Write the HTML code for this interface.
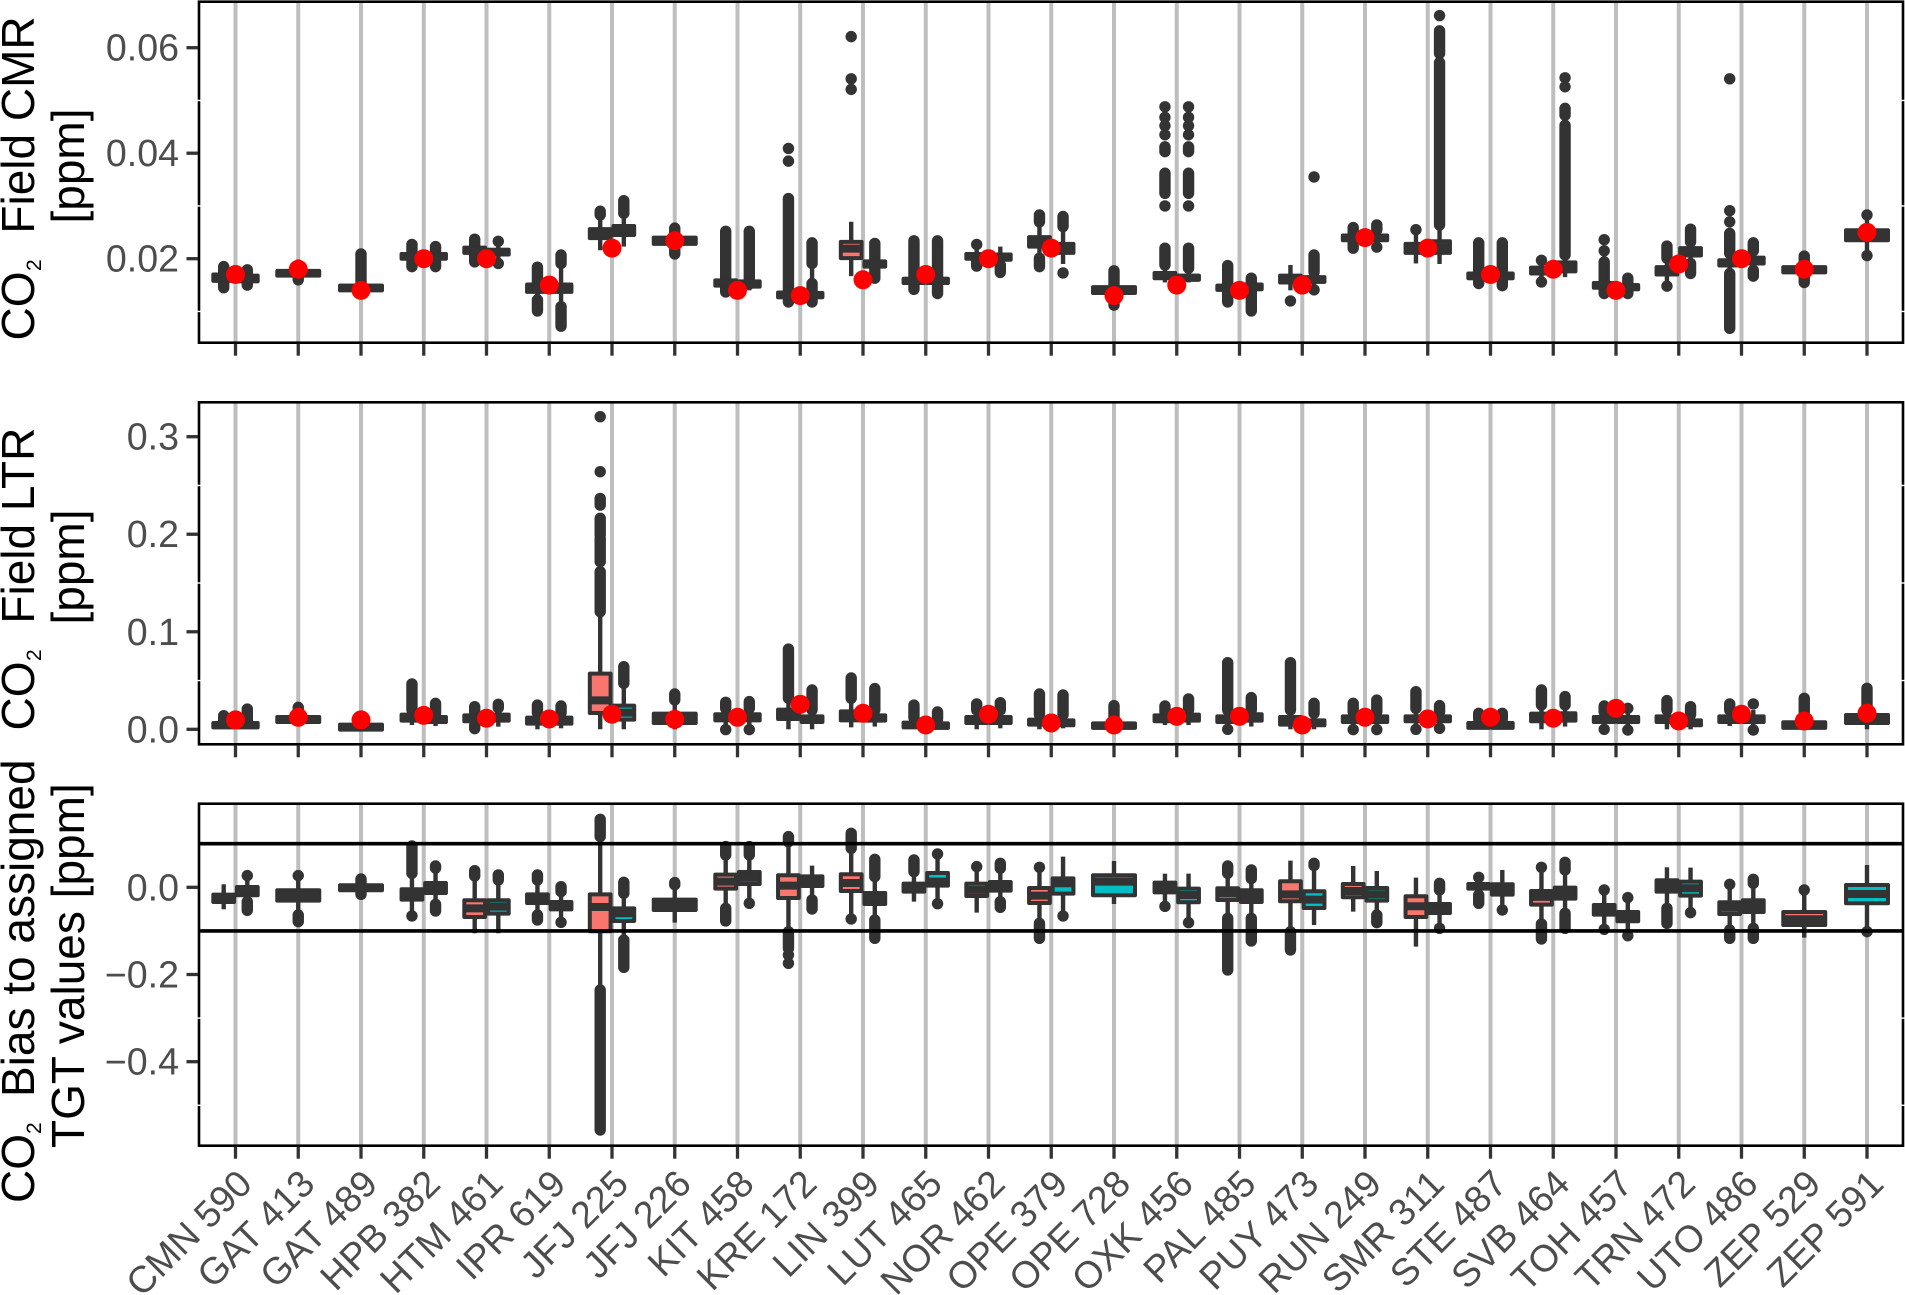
<!DOCTYPE html>
<html lang="en">
<head>
<meta charset="utf-8">
<title>CO2 field CMR, LTR and bias to assigned TGT values by station</title>
<style>
html,body{margin:0;padding:0;background:#fff;}
svg{display:block;font-family:"Liberation Sans",Arial,sans-serif;}
</style>
</head>
<body>
<svg id="chart" xmlns="http://www.w3.org/2000/svg" width="1905" height="1295" viewBox="0 0 1905 1295">
<rect x="0" y="0" width="1905" height="1295" fill="#fff"/>
<g id="plot"></g>
<text transform="rotate(-90)" font-size="46" fill="#000"><tspan x="-340.5" y="34">CO</tspan><tspan x="-271" y="41" font-size="21">2</tspan><tspan x="-233.6" y="34">Field CMR</tspan></text>
<text transform="rotate(-90)" font-size="46" fill="#000" text-anchor="middle" x="-166" y="84">[ppm]</text>
<text transform="rotate(-90)" font-size="46" fill="#000"><tspan x="-730.5" y="34">CO</tspan><tspan x="-661" y="41" font-size="21">2</tspan><tspan x="-623.6" y="34">Field LTR</tspan></text>
<text transform="rotate(-90)" font-size="46" fill="#000" text-anchor="middle" x="-567" y="84">[ppm]</text>
<text transform="rotate(-90)" font-size="46" fill="#000"><tspan x="-1203" y="34">CO</tspan><tspan x="-1134" y="41" font-size="21">2</tspan><tspan x="-1097" y="34">Bias to assigned</tspan></text>
<text transform="rotate(-90)" font-size="46" fill="#000" x="-1148" y="84">TGT values [ppm]</text>
</svg>
<script>
const categories = ["CMN 590","GAT 413","GAT 489","HPB 382","HTM 461","IPR 619","JFJ 225","JFJ 226","KIT 458","KRE 172","LIN 399","LUT 465","NOR 462","OPE 379","OPE 728","OXK 456","PAL 485","PUY 473","RUN 249","SMR 311","STE 487","SVB 464","TOH 457","TRN 472","UTO 486","ZEP 529","ZEP 591"];

const cmrTicks = [0.02, 0.04, 0.06];
const cmrTickLabels = ["0.02", "0.04", "0.06"];
const cmrMinorTicks = [0.01, 0.03, 0.05];
const ltrTicks = [0, 0.1, 0.2, 0.3];
const ltrTickLabels = ["0.0", "0.1", "0.2", "0.3"];
const ltrMinorTicks = [0.05, 0.15, 0.25];
const biasTicks = [0, -0.2, -0.4];
const biasTickLabels = ["0.0", "\u22120.2", "\u22120.4"];
const biasMinorTicks = [-0.3, -0.5];
const biasLimits = [0.1, -0.1];

/* assigned values (red points), one per category */
const cmrAssigned = [.017,.018,.014,.020,.020,.015,.022,.0234,.014,.013,.016,.017,.020,.022,.013,.015,.014,.015,.024,.022,.017,.018,.014,.019,.020,.018,.025];
const ltrAssigned = [.0096,.0123,.0096,.0143,.0113,.0106,.0154,.0102,.0123,.0256,.0164,.0044,.0154,.0065,.0044,.0133,.0133,.0044,.0123,.0106,.0123,.0113,.0215,.0085,.0154,.0085,.0164];

/* each box: [group, q1, median, q3, whiskerLow, whiskerHigh, outliers]; group 0 = first level, 1 = second level; an outlier is a value or a [low, high] run of overlapping points */
const cmrBoxes = [
[[0,.0158,.0164,.0170,.0150,.0178,[[.0145,.0185]]],[1,.0157,.0163,.0168,.0150,.0175,[[.0150,.0179]]]],
[[0,.0168,.0173,.0177,.0162,.0183,[[.0160,.0188]]]],
[[0,.0140,.0145,.0149,.0135,.0155,[[.0155,.0209]]]],
[[0,.0200,.0205,.0209,.0190,.0220,[[.0185,.0227]]],[1,.0200,.0205,.0209,.0190,.0220,[[.0185,.0223]]]],
[[0,.0211,.0216,.0221,.0200,.0230,[[.0194,.0237]]],[1,.0208,.0213,.0217,.0198,.0228,[.0233,.0191]]],
[[0,.0137,.0144,.0151,.0125,.0155,[[.0156,.0184],[.0101,.0122]]],[1,.0137,.0144,.0151,.0112,.0190,[[.0191,.0207],[.0072,.0109]]]],
[[0,.0239,.0247,.0256,.0216,.0283,[[.0283,.0290]]],[1,.0245,.0253,.0262,.0223,.0286,[[.0286,.0310]]]],
[[0,.0228,.0234,.0240,.0215,.0252,[[.0209,.0258]]]],
[[0,.0149,.0154,.0159,.0140,.0166,[[.0137,.0252]]],[1,.0147,.0152,.0157,.0140,.0160,[[.0152,.0252]]]],
[[0,.0127,.0131,.0136,.0120,.0150,[.0409,.0385,[.0118,.0314]]],[1,.0127,.0131,.0135,.0120,.0190,[[.0191,.0230],[.0118,.0153]]]],
[[0,.0201,.0219,.0232,.0167,.0270,[.0621,.0541,.0521]],[1,.0185,.0190,.0195,.0163,.0204,[[.0163,.0229]]]],
[[0,.0154,.0158,.0162,.0145,.0170,[[.0142,.0234]]],[1,.0154,.0158,.0162,.0140,.0170,[[.0134,.0234]]]],
[[0,.0200,.0205,.0209,.0190,.0220,[.0227,[.0186,.0195]]],[1,.0198,.0203,.0208,.0190,.0223,[[.0174,.0188]]]],
[[0,.0223,.0232,.0241,.0201,.0270,[[.0270,.0283],[.0185,.0201]]],[1,.0211,.0220,.0228,.0190,.0261,[[.0261,.0280],.0173]]],
[[0,.0135,.0140,.0146,.0125,.0160,[[.0112,.0177]]]],
[[0,.0163,.0168,.0173,.0155,.0188,[.0488,.0468,.0452,.0435,[.0403,.0412],[.0324,.0362],.0300,[.0188,.0220]]],[1,.0160,.0164,.0168,.0155,.0182,[.0488,.0468,.0452,.0435,[.0403,.0412],[.0324,.0362],.0300,[.0182,.0220]]]],
[[0,.0141,.0145,.0149,.0130,.0155,[[.0118,.0187]]],[1,.0142,.0146,.0151,.0125,.0155,[[.0101,.0163]]]],
[[0,.0155,.0161,.0168,.0140,.0188,[.0120]],[1,.0156,.0160,.0165,.0145,.0175,[.0355,[.0175,.0207],.0141]]],
[[0,.0235,.0240,.0244,.0225,.0250,[[.0220,.0259]]],[1,.0235,.0240,.0244,.0225,.0255,[[.0255,.0264],.0222]]],
[[0,.0211,.0220,.0228,.0191,.0250,[.0255]],[1,.0211,.0222,.0233,.0190,.0264,[.0661,[.0589,.0632],[.0264,.0572]]]],
[[0,.0163,.0167,.0172,.0153,.0185,[[.0153,.0230]]],[1,.0163,.0167,.0172,.0149,.0185,[[.0149,.0230]]]],
[[0,.0172,.0177,.0183,.0160,.0190,[.0197,.0156]],[1,.0176,.0185,.0193,.0165,.0207,[.0543,.0526,[.0472,.0485],[.0207,.0453]]]],
[[0,.0145,.0150,.0154,.0138,.0190,[.0236,.0215,[.0134,.0194]]],[1,.0142,.0146,.0150,.0134,.0163,[[.0134,.0163]]]],
[[0,.0170,.0177,.0184,.0150,.0201,[[.0201,.0224],.0148]],[1,.0206,.0213,.0220,.0191,.0232,[[.0232,.0256],[.0172,.0191]]]],
[[0,.0187,.0192,.0197,.0175,.0210,[.0541,.0291,.0270,[.0210,.0248],[.0068,.0172]]],[1,.0191,.0197,.0202,.0178,.0215,[[.0215,.0230],[.0167,.0178]]]],
[[0,.0174,.0179,.0184,.0155,.0205,[[.0155,.0205]]]],
[[1,.0235,.0245,.0254,.0215,.0275,[.0283,.0206]]]
];

const ltrBoxes = [
[[0,.0020,.0043,.0065,.0010,.0100,[[.0080,.0140]]],[1,.0020,.0043,.0065,.0010,.0100,[[.0080,.0208]]]],
[[0,.0075,.0100,.0126,.0050,.0150,[[.0140,.0225]]]],
[[0,-.0003,.0022,.0048,-.0010,.0060,[]]],
[[0,.0089,.0120,.0150,.0044,.0198,[[.0198,.0465]]],[1,.0075,.0100,.0126,.0034,.0160,[[.0160,.0266]]]],
[[0,.0082,.0112,.0143,.0040,.0180,[[.0180,.0232],[.0007,.0040]]],[1,.0089,.0120,.0150,.0027,.0180,[[.0220,.0256]]]],
[[0,.0058,.0090,.0120,0,.0170,[[.0170,.0249]]],[1,.0058,.0090,.0120,.0010,.0170,[[.0170,.0239]]]],
[[0,.0167,.0297,.0571,0,.1210,[.3205,.2641,[.2299,.2367],[.1992,.2163],[.1718,.1958],[.1206,.1616]]],[1,.0099,.0171,.0243,0,.0471,[[.0471,.0642]]]],
[[0,.0065,.0113,.0161,0,.0301,[[.0301,.0362]]]],
[[0,.0092,.0123,.0154,.0010,.0215,[[.0215,.0277],-.0003]],[1,.0092,.0123,.0154,.0010,.0215,[[.0215,.0284],-.0003]]],
[[0,.0106,.0154,.0202,0,.0318,[[.0318,.0823]]],[1,.0075,.0104,.0133,0,.0198,[[.0198,.0403]]]],
[[0,.0092,.0138,.0184,.0020,.0318,[[.0318,.0526]]],[1,.0089,.0116,.0143,.0028,.0198,[[.0198,.0417]]]],
[[0,.0020,.0044,.0068,.0010,.0120,[[.0120,.0249]]],[1,.0014,.0037,.0061,.0005,.0110,[[.0110,.0178]]]],
[[0,.0065,.0095,.0126,0,.0198,[[.0198,.0260]]],[1,.0065,.0095,.0126,.0010,.0198,[[.0198,.0273]]]],
[[0,.0048,.0074,.0099,0,.0150,[[.0150,.0362]]],[1,.0041,.0067,.0092,.0010,.0150,[[.0150,.0352]]]],
[[1,.0014,.0037,.0061,.0005,.0110,[[.0110,.0243]]]],
[[0,.0082,.0112,.0143,.0044,.0180,[[.0180,.0239]]],[1,.0089,.0120,.0150,.0044,.0198,[[.0198,.0311]]]],
[[0,.0075,.0104,.0133,.0020,.0198,[[.0198,.0683],0]],[1,.0089,.0120,.0154,.0028,.0198,[[.0198,.0325]]]],
[[0,.0048,.0087,.0126,0,.0198,[[.0198,.0683]]],[1,.0041,.0067,.0092,0,.0165,[[.0165,.0266]]]],
[[0,.0075,.0104,.0133,.0020,.0180,[[.0180,.0266],-.0003]],[1,.0075,.0104,.0133,.0020,.0180,[[.0180,.0300],-.0003]]],
[[0,.0082,.0108,.0133,.0010,.0215,[[.0215,.0386],0]],[1,.0082,.0108,.0133,.0010,.0180,[[.0180,.0243],.0010]]],
[[0,.0014,.0040,.0065,.0005,.0110,[[.0110,.0164]]],[1,.0014,.0040,.0065,.0005,.0110,[[.0110,.0164]]]],
[[0,.0082,.0122,.0161,0,.0249,[[.0249,.0403]]],[1,.0089,.0125,.0164,.0028,.0249,[[.0249,.0335]]]],
[[0,.0075,.0100,.0126,.0020,.0180,[[.0180,.0239],0]],[1,.0075,.0100,.0126,.0020,.0180,[.0215,-.0007]]],
[[0,.0075,.0104,.0133,0,.0198,[[.0198,.0294]]],[1,.0041,.0067,.0092,0,.0150,[[.0150,.0232]]]],
[[0,.0075,.0104,.0133,.0034,.0198,[[.0198,.0260]]],[1,.0075,.0104,.0133,.0020,.0198,[.0260,-.0007]]],
[[0,.0014,.0043,.0072,.0005,.0110,[[.0110,.0318]]]],
[[1,.0065,.0106,.0147,0,.0232,[[.0232,.0420]]]]
];

const biasBoxes = [
[[0,-.0336,-.0250,-.0168,-.0505,.0069,[]],[1,-.0183,-.0090,.0008,-.0329,.0200,[.0268,[-.0528,-.0329]]]],
[[0,-.0306,-.0190,-.0069,-.0635,.0200,[.0268,[-.0787,-.0635]]]],
[[0,-.0069,-.0010,.0046,-.0161,.0191,[[-.0161,.0191]]]],
[[0,-.0283,-.0160,-.0046,-.0600,.0321,[[.0321,.0948],-.0657]],[1,-.0130,-.0010,.0099,-.0390,.0440,[[.0440,.0489],[-.0543,-.0390]]]],
[[0,-.0680,-.0482,-.0298,-.1055,.0260,[[.0260,.0382]]],[1,-.0604,-.0443,-.0298,-.1055,.0168,[[.0168,.0283]]]],
[[0,-.0359,-.0260,-.0161,-.0635,.0168,[[.0168,.0283],[-.0749,-.0635]]],[1,-.0505,-.0420,-.0336,-.0750,-.0099,[[-.0099,.0015],-.0803]]],
[[0,-.1009,-.0451,-.0161,-.2278,.1162,[[.1162,.1560],[-.5566,-.2355]]],[1,-.0772,-.0596,-.0482,-.1208,-.0138,[[-.0138,.0115],[-.1835,-.1208]]]],
[[0,-.0520,-.0400,-.0283,-.0810,.0060,[[.0060,.0107]]]],
[[0,-.0031,.0130,.0291,-.0482,.0742,[[.0742,.0933],[-.0772,-.0482]]],[1,.0076,.0220,.0352,-.0300,.0742,[[.0742,.0933],-.0367]]],
[[0,-.0245,.0038,.0275,-.1017,.1047,[[.1047,.1162],[-.1400,-.1017],-.1552,-.1743]],[1,.0031,.0140,.0252,-.0290,.0497,[[-.0497,-.0290]]]],
[[0,-.0084,.0099,.0298,-.0726,.0894,[[.0894,.1239],-.0726]],[1,-.0382,-.0260,-.0130,-.0749,.0245,[[.0245,.0642],[-.1170,-.0749]]]],
[[0,-.0099,-.0010,.0084,-.0329,.0359,[[.0359,.0627]]],[1,.0038,.0130,.0329,-.0375,.0700,[.0765,-.0375]]],
[[0,-.0199,-.0060,.0084,-.0581,.0474,[.0474]],[1,-.0076,.0020,.0122,-.0329,.0436,[[.0436,.0550],[-.0459,-.0329]]]],
[[0,-.0359,-.0191,-.0015,-.0826,.0459,[.0459,[-.1170,-.0826]]],[1,-.0145,.0092,.0206,-.0657,.0703,[-.0657]]],
[[1,-.0183,.0130,.0275,-.0382,.0604,[]]],
[[0,-.0115,-.0010,.0107,-.0436,.0313,[-.0436]],[1,-.0344,-.0176,-.0031,-.0810,.0313,[-.0810]]],
[[0,-.0291,-.0138,-.0023,-.0711,.0321,[[.0321,.0489],[-.1896,-.0711]]],[1,-.0336,-.0200,-.0069,-.0711,.0200,[[.0200,.0398],[-.1231,-.0711]]]],
[[0,-.0321,-.0161,.0138,-.1017,.0612,[[-.1437,-.1017]]],[1,-.0474,-.0283,-.0092,-.0864,.0500,[[.0500,.0550]]]],
[[0,-.0229,-.0084,.0076,-.0558,.0489,[]],[1,-.0306,-.0160,-.0015,-.0635,.0375,[[-.0810,-.0635]]]],
[[0,-.0680,-.0436,-.0206,-.1361,.0222,[]],[1,-.0589,-.0480,-.0382,-.0940,-.0061,[[-.0061,.0092],-.0940]]],
[[0,-.0031,.0020,.0076,-.0176,.0229,[.0229,[-.0367,-.0176]]],[1,-.0168,-.0050,.0069,-.0520,.0398,[-.0520]]],
[[0,-.0398,-.0220,-.0084,-.0841,.0459,[.0459,[-.1185,-.0841]]],[1,-.0260,-.0130,-.0008,-.0596,.0398,[[.0398,.0573],[-.0940,-.0596]]]],
[[0,-.0627,-.0510,-.0405,-.0963,-.0061,[-.0061,-.0963]],[1,-.0780,-.0670,-.0566,-.1109,-.0237,[-.0237,-.1109]]],
[[0,-.0099,.0030,.0161,-.0482,.0459,[[-.0826,-.0482]]],[1,-.0191,-.0023,.0130,-.0581,.0451,[-.0581]]],
[[0,-.0612,-.0470,-.0344,-.0979,.0069,[.0069,[-.1170,-.0979]]],[1,-.0566,-.0430,-.0298,-.0940,.0092,[[.0092,.0183],[-.1170,-.0940]]]],
[[0,-.0864,-.0734,-.0566,-.1154,-.0061,[-.0061]]],
[[1,-.0367,-.0153,.0054,-.1017,.0512,[-.1017]]]
];

const NS = "http://www.w3.org/2000/svg";
const plot = document.getElementById("plot");
const groupFill = ["#F8766D", "#00BFC4"];
const frameLeft = 199, frameRight = 1903;

function make(tag, attrs, parent) {
  const node = document.createElementNS(NS, tag);
  for (const key in attrs) node.setAttribute(key, attrs[key]);
  parent.appendChild(node);
  return node;
}
function xCat(i) { return 235.5 + 62.75 * i; }
function linearY(v0, p0, v1, p1) { return v => p0 + (v - v0) * (p1 - p0) / (v1 - v0); }
const yCmr = linearY(0.02, 258.7, 0.06, 47.7);
const yLtr = linearY(0, 729.3, 0.3, 436.7);
const yBias = linearY(0, 887.3, -0.4, 1061.7);

function drawBox(layer, box, cx, boxW, y) {
  const g = box[0], q1 = box[1], med = box[2], q3 = box[3], lo = box[4], hi = box[5], outs = box[6];
  outs.forEach(o => {
    const top = Array.isArray(o) ? y(o[1]) : y(o);
    const bot = Array.isArray(o) ? y(o[0]) : y(o);
    const out = make("line", {x1: cx, x2: cx, y1: top, y2: bot + 0.01, stroke: "#333333", "stroke-width": 11.4, "stroke-linecap": "round"}, layer);
    
    
  });
  const whisker = make("line", {x1: cx, x2: cx, y1: y(hi), y2: y(lo), stroke: "#333333", "stroke-width": 4.4}, layer);
  
  
  const rect = make("rect", {x: cx - boxW / 2, y: y(q3), width: boxW, height: y(q1) - y(q3), fill: groupFill[g], stroke: "#333333", "stroke-width": 4, "stroke-linejoin": "round"}, layer);
  
  
  const median = make("line", {x1: cx - boxW / 2, x2: cx + boxW / 2, y1: y(med), y2: y(med), stroke: "#333333", "stroke-width": 8}, layer);
  
  
}

function drawPanel(name, top, bottom, y, ticks, labels, minor, boxes, assigned, limits, showCategories) {
  const panel = make("g", {}, plot);
  
  

  categories.forEach((c, i) => {
    const grid = make("line", {x1: xCat(i), x2: xCat(i), y1: top, y2: bottom, stroke: "#bebebe", "stroke-width": 4}, panel);
    
    
  });

  boxes.forEach((list, i) => {
    const group = make("g", {}, panel);
    
    
    list.forEach((box, k) => {
      const cx = list.length === 1 ? xCat(i) : xCat(i) + (k === 0 ? -11.8 : 11.8);
      const boxW = list.length === 1 ? 42 : 20.8;
      drawBox(group, box, cx, boxW, y);
    });
  });

  limits.forEach(v => {
    const limit = make("line", {x1: frameLeft, x2: frameRight, y1: y(v), y2: y(v), stroke: "#000", "stroke-width": 3.6}, panel);
    
    
  });

  assigned.forEach((v, i) => {
    const dot = make("circle", {cx: xCat(i), cy: y(v), r: 9.5, fill: "#ff0000"}, panel);
    
    
  });

  const frame = make("rect", {x: frameLeft, y: top, width: frameRight - frameLeft, height: bottom - top, fill: "none", stroke: "#000", "stroke-width": 2.6}, panel);
  
  

  minor.forEach(v => {
    [frameLeft, frameRight].forEach(xp => {
      const nick = make("line", {x1: xp - 1.6, x2: xp + 1.6, y1: y(v), y2: y(v), stroke: "#fff", "stroke-width": 1.4}, panel);
      
      
    });
  });

  ticks.forEach((v, i) => {
    const tick = make("line", {x1: 186.5, x2: 198, y1: y(v), y2: y(v), stroke: "#333333", "stroke-width": 3.3}, panel);
    
    
    const label = make("text", {x: 179, y: y(v) + 13, "text-anchor": "end", "font-size": 37.6, fill: "#4d4d4d"}, panel);
    label.textContent = labels[i];
    
    
  });

  categories.forEach((c, i) => {
    const tick = make("line", {x1: xCat(i), x2: xCat(i), y1: bottom + 1, y2: bottom + 13, stroke: "#333333", "stroke-width": 3.3}, panel);
    
    
    if (showCategories) {
      const ax = xCat(i) + 18.5, ay = 1186;
      const label = make("text", {x: ax, y: ay, "text-anchor": "end", "font-size": 37.6, fill: "#4d4d4d", transform: "rotate(-45 " + ax + " " + ay + ")"}, panel);
      label.textContent = c;
      
      
    }
  });
}

drawPanel("cmr", 1.7, 342.7, yCmr, cmrTicks, cmrTickLabels, cmrMinorTicks, cmrBoxes, cmrAssigned, [], false);
drawPanel("ltr", 402.3, 744.3, yLtr, ltrTicks, ltrTickLabels, ltrMinorTicks, ltrBoxes, ltrAssigned, [], false);
drawPanel("bias", 803.7, 1145.7, yBias, biasTicks, biasTickLabels, biasMinorTicks, biasBoxes, [], biasLimits, true);
</script>
</body>
</html>
